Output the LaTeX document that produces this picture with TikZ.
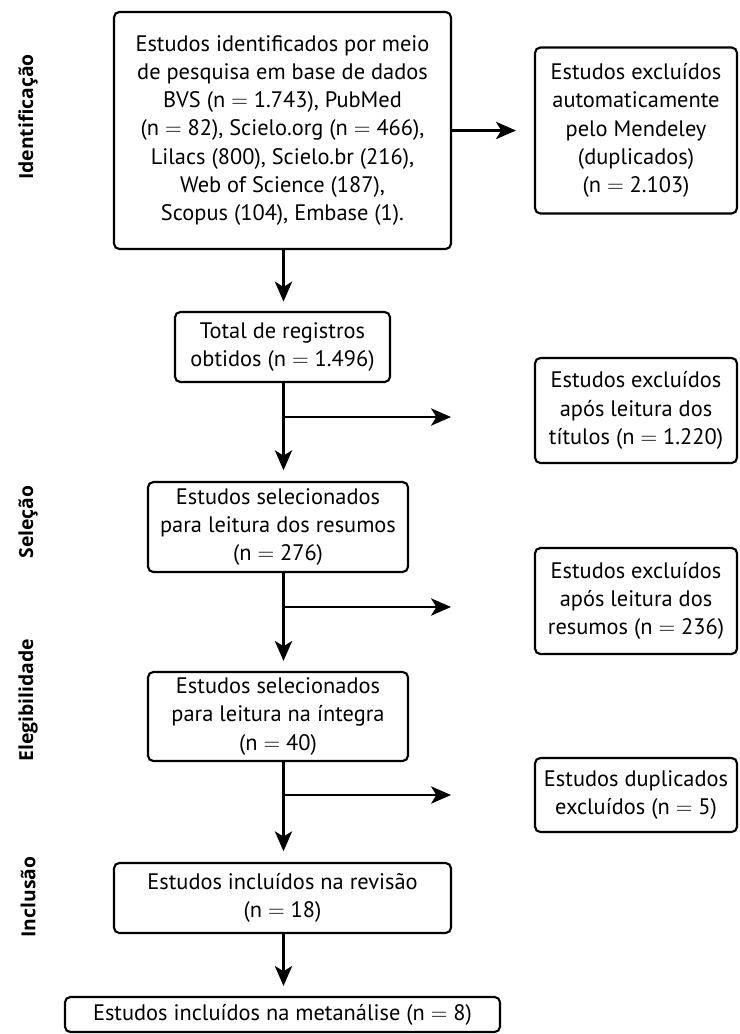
\documentclass[tikz,border=0pt]{standalone}
\usepackage{fontspec}
\setmainfont{PT Sans}
\newfontfamily\lblfont{Open Sans}
\usetikzlibrary{arrows.meta}
\newcommand{\eqs}{\ $=$\ }
\begin{document}
\begin{tikzpicture}[x=0.75pt,y=-0.75pt,
  box/.style={draw,line width=1.6pt,rounded corners=4pt,align=center,
    inner sep=0pt,font=\fontsize{16.8}{21.2}\selectfont},
  arr/.style={line width=1.6pt,-{Stealth[length=15pt,width=13pt,inset=4pt]}},
  lbl/.style={rotate=90,font=\lblfont\bfseries\fontsize{14.5}{17}\selectfont}]
\useasboundingbox (0,0) rectangle (739,1034);
% main column
\node[box,minimum width=337*0.75pt,minimum height=237*0.75pt] (b1) at (282.5,130.5)
 {Estudos identificados por meio\\de pesquisa em base de dados\\BVS (n\eqs1.743), PubMed\\(n\eqs82), Scielo.org (n\eqs466),\\Lilacs (800), Scielo.br (216),\\Web of Science (187),\\Scopus (104), Embase (1).};
\node[box,minimum width=202*0.75pt,minimum height=166*0.75pt] (r1) at (636,130.5)
 {Estudos excluídos\\automaticamente\\pelo Mendeley\\(duplicados)\\(n\eqs2.103)};
\node[box,minimum width=215*0.75pt,minimum height=70*0.75pt] (b2) at (282.5,347)
 {Total de registros\\obtidos (n\eqs1.496)};
\node[box,minimum width=202*0.75pt,minimum height=105*0.75pt] (r2) at (636,410.5)
 {Estudos excluídos\\após leitura dos\\títulos (n\eqs1.220)};
\node[box,minimum width=260*0.75pt,minimum height=90*0.75pt] (b3) at (278,527)
 {Estudos selecionados\\para leitura dos resumos\\(n\eqs276)};
\node[box,minimum width=202*0.75pt,minimum height=106*0.75pt] (r3) at (636,601)
 {Estudos excluídos\\após leitura dos\\resumos (n\eqs236)};
\node[box,minimum width=260*0.75pt,minimum height=89*0.75pt] (b4) at (278,716.5)
 {Estudos selecionados\\para leitura na íntegra\\(n\eqs40)};
\node[box,minimum width=202*0.75pt,minimum height=74*0.75pt] (r4) at (636,795)
 {Estudos duplicados\\excluídos (n\eqs5)};
\node[box,minimum width=337*0.75pt,minimum height=70*0.75pt] (b5) at (282.5,898)
 {Estudos incluídos na revisão\\(n\eqs18)};
\node[box,minimum width=435*0.75pt,minimum height=35*0.75pt] (b6) at (282.5,1014.5)
 {Estudos incluídos na metanálise (n\eqs8)};
% side labels
\node[lbl] (l1) at (28,117) {Identificação};
\node[lbl] (l2) at (28,522) {Seleção};
\node[lbl] (l3) at (28,700) {Elegibilidade};
\node[lbl] (l4) at (28,897) {Inclusão};
% trunk points
\coordinate (c1) at (283.5,249);
\coordinate (c2) at (283.5,417);
\coordinate (t2) at (451,417);
\coordinate (c3) at (283.5,607);
\coordinate (t3) at (451,607);
\coordinate (c4) at (283.5,795);
\coordinate (t4) at (451,795);
% connectors
\draw[arr,shorten >=13.5pt] (b1) -- (r1);
\draw[arr,shorten >=7pt] (b1.south -| c1) -- (b2.north -| c1);
\draw[arr,shorten >=8pt] (b2.south -| c2) -- (b3.north -| c2);
\draw[arr,shorten >=7.5pt] (b3.south -| c3) -- (b4.north -| c3);
\draw[arr,shorten >=8pt] (b4.south -| c4) -- (b5.north -| c4);
\draw[arr,shorten >=7.5pt] (b5.south -| c4) -- (b6.north -| c4);
\draw[arr] (c2) -- (t2);
\draw[arr] (c3) -- (t3);
\draw[arr] (c4) -- (t4);
\end{tikzpicture}
\end{document}
